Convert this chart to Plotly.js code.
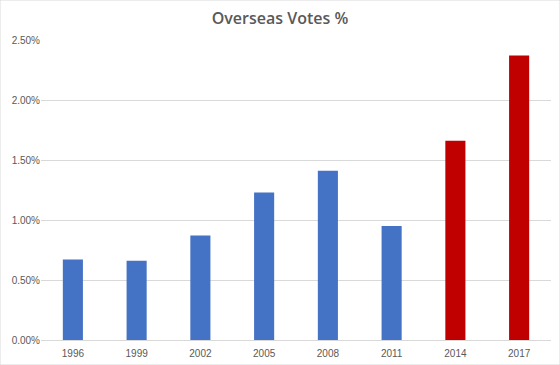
<!DOCTYPE html>
<html>
<head>
<meta charset="utf-8">
<script src="https://cdn.plot.ly/plotly-3.0.1.min.js"></script>
<style>html,body{margin:0;padding:0;background:#fff;}#chart{width:560px;height:365px;}</style>
</head>
<body>
<div id="chart"></div>
<script>
const years = ["1996","1999","2002","2005","2008","2011","2014","2017"];
const overseasVotesPct = [0.67, 0.66, 0.87, 1.23, 1.41, 0.95, 1.66, 2.37];
const barColors = ["#4472C4","#4472C4","#4472C4","#4472C4","#4472C4","#4472C4","#C00000","#C00000"];
const yTicks = [0, 0.5, 1.0, 1.5, 2.0, 2.5];
const yTickLabels = ["0.00%","0.50%","1.00%","1.50%","2.00%","2.50%"];

const trace = {
  type: "bar",
  x: years,
  y: overseasVotesPct,
  marker: {color: barColors},
  hoverinfo: "none"
};

const layout = {
  width: 560,
  height: 365,
  margin: {l: 41, r: 9, t: 40, b: 25},
  paper_bgcolor: "#ffffff",
  plot_bgcolor: "#ffffff",
  bargap: 0.685,
  showlegend: false,
  font: {family: "Liberation Sans, Arial, sans-serif", color: "#595959"},
  title: {
    text: "Overseas Votes %",
    font: {family: "Open Sans, Liberation Sans, sans-serif", size: 16, color: "#595959", weight: 600},
    x: 0.5, xanchor: "center", y: 0.95, yanchor: "middle"
  },
  xaxis: {
    type: "category",
    showgrid: false,
    showline: true,
    linecolor: "#d9d9d9",
    linewidth: 1,
    ticks: "",
    tickfont: {size: 10, color: "#595959"},
    ticklabelstandoff: 4
  },
  yaxis: {
    range: [0, 2.5],
    tickmode: "array",
    tickvals: yTicks,
    ticktext: yTickLabels,
    showgrid: true,
    gridcolor: "#d9d9d9",
    gridwidth: 1,
    zeroline: false,
    showline: false,
    ticks: "",
    tickfont: {size: 10, color: "#595959"}
  },
  shapes: [{
    type: "rect", xref: "paper", yref: "paper",
    x0: -41/510, x1: 1 + 9/510, y0: -25/300, y1: 1 + 40/300,
    line: {color: "#d9d9d9", width: 1}, fillcolor: "rgba(0,0,0,0)", layer: "below"
  }]
};

Plotly.newPlot("chart", [trace], layout, {staticPlot: true, displayModeBar: false});
</script>
</body>
</html>
